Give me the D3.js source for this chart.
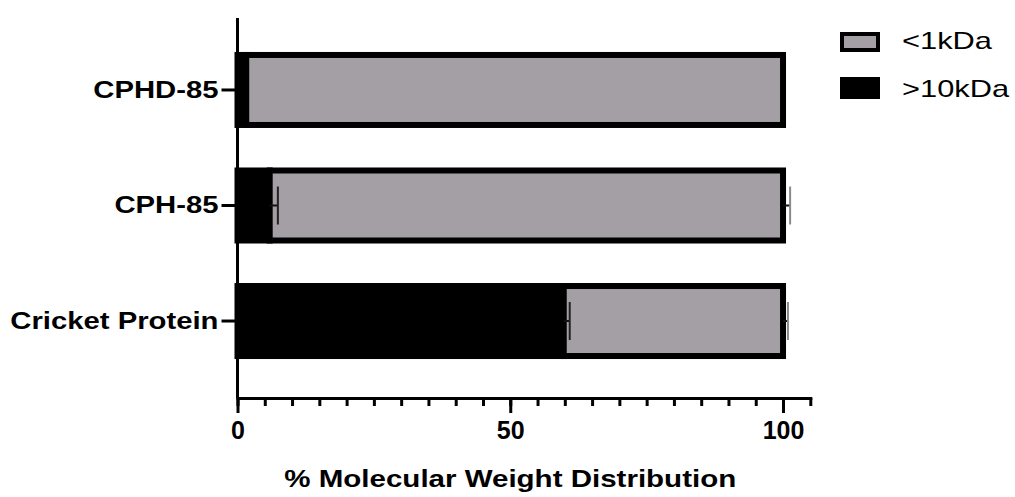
<!DOCTYPE html>
<html>
<head>
<meta charset="utf-8">
<script src="https://d3js.org/d3.v7.min.js"></script>
<style>
  body { margin: 0; background: #fff; font-family: "Liberation Sans", Arial, sans-serif; }
  .axis path, .axis line { stroke: #000; stroke-width: 3; fill: none; }
  .axis text { fill: #000; font-weight: bold; font-family: "Liberation Sans", Arial, sans-serif; }
</style>
</head>
<body>
<div id="graphic"></div>
<script>
var categories = ["CPHD-85", "CPH-85", "Cricket Protein"];
var above10 = [1.6, 5.9, 59.8];      // >10kDa
var above10Err = [0, 1.5, 1.1];
var below1 = [98.4, 94.1, 40.2];     // <1kDa
var below1Err = [0, 1.3, 0.9];
var xTicks = [0, 50, 100];
var seriesNames = ["<1kDa", ">10kDa"];

var grey = "#a49fa4";
var stretch = 1.22;

var svg = d3.select("#graphic").append("svg")
    .attr("width", 1015)
    .attr("height", 497);

var x = d3.scaleLinear().domain([0, 105]).range([237.5, 810.3]);
var y = d3.scaleBand().domain(categories).range([15, 396])
    .paddingInner(0.394).paddingOuter(0.346);

// bars
var rows = categories.map(function (c, i) {
  return { name: c, a: above10[i], aErr: above10Err[i], b: below1[i], bErr: below1Err[i] };
});

var g = svg.append("g");

g.selectAll(".black").data(rows).enter().append("rect")
    .attr("x", x(0))
    .attr("y", function (d) { return y(d.name); })
    .attr("width", function (d) { return x(d.a) - x(0); })
    .attr("height", y.bandwidth())
    .attr("fill", "#000")
    .attr("stroke", "#000")
    .attr("stroke-width", 6);

g.selectAll(".grey").data(rows).enter().append("rect")
    .attr("x", function (d) { return x(d.a); })
    .attr("y", function (d) { return y(d.name); })
    .attr("width", function (d) { return x(d.a + d.b) - x(d.a); })
    .attr("height", y.bandwidth())
    .attr("fill", grey)
    .attr("stroke", "#000")
    .attr("stroke-width", 6);

// error bars
function errBar(sel, end, err, capColor) {
  var e = sel.filter(function (d) { return err(d) > 0; });
  e.append("line")
      .attr("x1", function (d) { return x(end(d)); })
      .attr("x2", function (d) { return x(end(d) + err(d)); })
      .attr("y1", function (d) { return y(d.name) + y.bandwidth() / 2; })
      .attr("y2", function (d) { return y(d.name) + y.bandwidth() / 2; })
      .attr("stroke", "#111").attr("stroke-width", 2);
  e.append("line")
      .attr("x1", function (d) { return x(end(d) + err(d)); })
      .attr("x2", function (d) { return x(end(d) + err(d)); })
      .attr("y1", function (d) { return y(d.name) + y.bandwidth() / 2 - 19; })
      .attr("y2", function (d) { return y(d.name) + y.bandwidth() / 2 + 19; })
      .attr("stroke", capColor).attr("stroke-width", 2);
}
var eg = g.selectAll(".err").data(rows).enter().append("g");
errBar(eg, function (d) { return d.a; }, function (d) { return d.aErr; }, "#222");
errBar(eg, function (d) { return d.a + d.b; }, function (d) { return d.bErr; }, "#8a8a8a");

// y axis
svg.append("line")
    .attr("x1", x(0)).attr("x2", x(0))
    .attr("y1", 18).attr("y2", 398)
    .attr("stroke", "#000").attr("stroke-width", 3);

var gy = svg.append("g")
    .attr("class", "axis")
    .attr("transform", "translate(" + x(0) + ",0)")
    .call(d3.axisLeft(y).tickSize(16).tickSizeOuter(0));
gy.select(".domain").remove();
gy.selectAll("text")
    .style("font-size", "24px")
    .attr("x", -19 / stretch)
    .attr("transform", "scale(" + stretch + ",1)");

// x axis: minor ticks, then major ticks with labels
var xMinor = d3.range(0, 106, 5);
var gxm = svg.append("g")
    .attr("class", "axis")
    .attr("transform", "translate(0,398)")
    .call(d3.axisBottom(x).tickValues(xMinor).tickSize(8).tickSizeOuter(0).tickFormat(""));
gxm.select(".domain").attr("stroke-linecap", "square");

var gx = svg.append("g")
    .attr("class", "axis")
    .attr("transform", "translate(0,398)")
    .call(d3.axisBottom(x).tickValues(xTicks).tickSize(15).tickSizeOuter(0));
gx.select(".domain").remove();
gx.selectAll("text")
    .style("font-size", "25px")
    .attr("y", 23);

svg.append("text")
    .attr("transform", "translate(" + x(50) + ",487) scale(1.23,1)")
    .attr("text-anchor", "middle")
    .style("font-size", "24px")
    .style("font-weight", "bold")
    .text("% Molecular Weight Distribution");

// legend
var legend = svg.append("g");
legend.append("rect")
    .attr("x", 842).attr("y", 34).attr("width", 36).attr("height", 16)
    .attr("fill", grey).attr("stroke", "#000").attr("stroke-width", 4);
legend.append("rect")
    .attr("x", 840).attr("y", 77).attr("width", 40).attr("height", 22)
    .attr("fill", "#000");
legend.selectAll("text").data(seriesNames).enter().append("text")
    .attr("transform", function (d, i) { return "translate(902," + (49 + i * 48) + ") scale(1.34,1)"; })
    .style("font-size", "23px")
    .text(function (d) { return d; });
</script>
</body>
</html>
